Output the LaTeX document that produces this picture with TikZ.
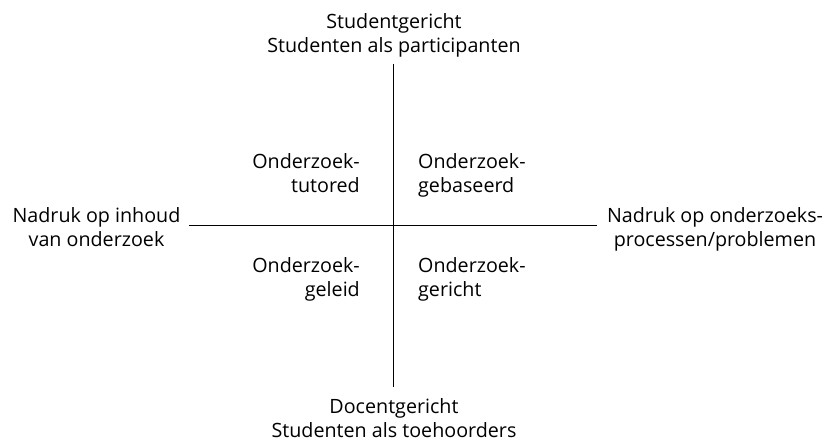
\documentclass[tikz,border=0pt]{standalone}
\usepackage{fontspec}
\setmainfont{Open Sans}
\usetikzlibrary{positioning}

\begin{document}
\begin{tikzpicture}[
    x=1pt, y=-1pt,
    every node/.style={inner sep=0pt, font=\fontsize{19.7}{24}\selectfont},
    axis/.style={line width=1pt},
]
\useasboundingbox (0,0) rectangle (825,441);
% assen
\coordinate (top) at (393,64);
\coordinate (bottom) at (393,387);
\coordinate (left) at (189,225);
\coordinate (right) at (597,225);
\draw [axis] (top) -- (bottom);
\draw [axis] (left) -- (right);
% uiteinden
\node [align=center, anchor=north] (student) at (394,13.5) {Studentgericht\\Studenten als participanten};
\node [align=center, anchor=north] (docent) at (394,398.5) {Docentgericht\\Studenten als toehoorders};
\node [align=center, anchor=north] (inhoud) at (96.5,207) {Nadruk op inhoud\\van onderzoek};
\node [align=center, anchor=north] (proces) at (715,207) {Nadruk op onderzoeks-\\processen/problemen};
% kwadranten
\node [align=right, anchor=north east] (tutored) at (360,153) {Onderzoek-\\tutored};
\node [align=left, anchor=north west] (gebaseerd) at (418,153) {Onderzoek-\\gebaseerd};
\node [align=right, anchor=north east] (geleid) at (360,257) {Onderzoek-\\geleid};
\node [align=left, anchor=north west] (gericht) at (418,257) {Onderzoek-\\gericht};
\end{tikzpicture}
\end{document}
